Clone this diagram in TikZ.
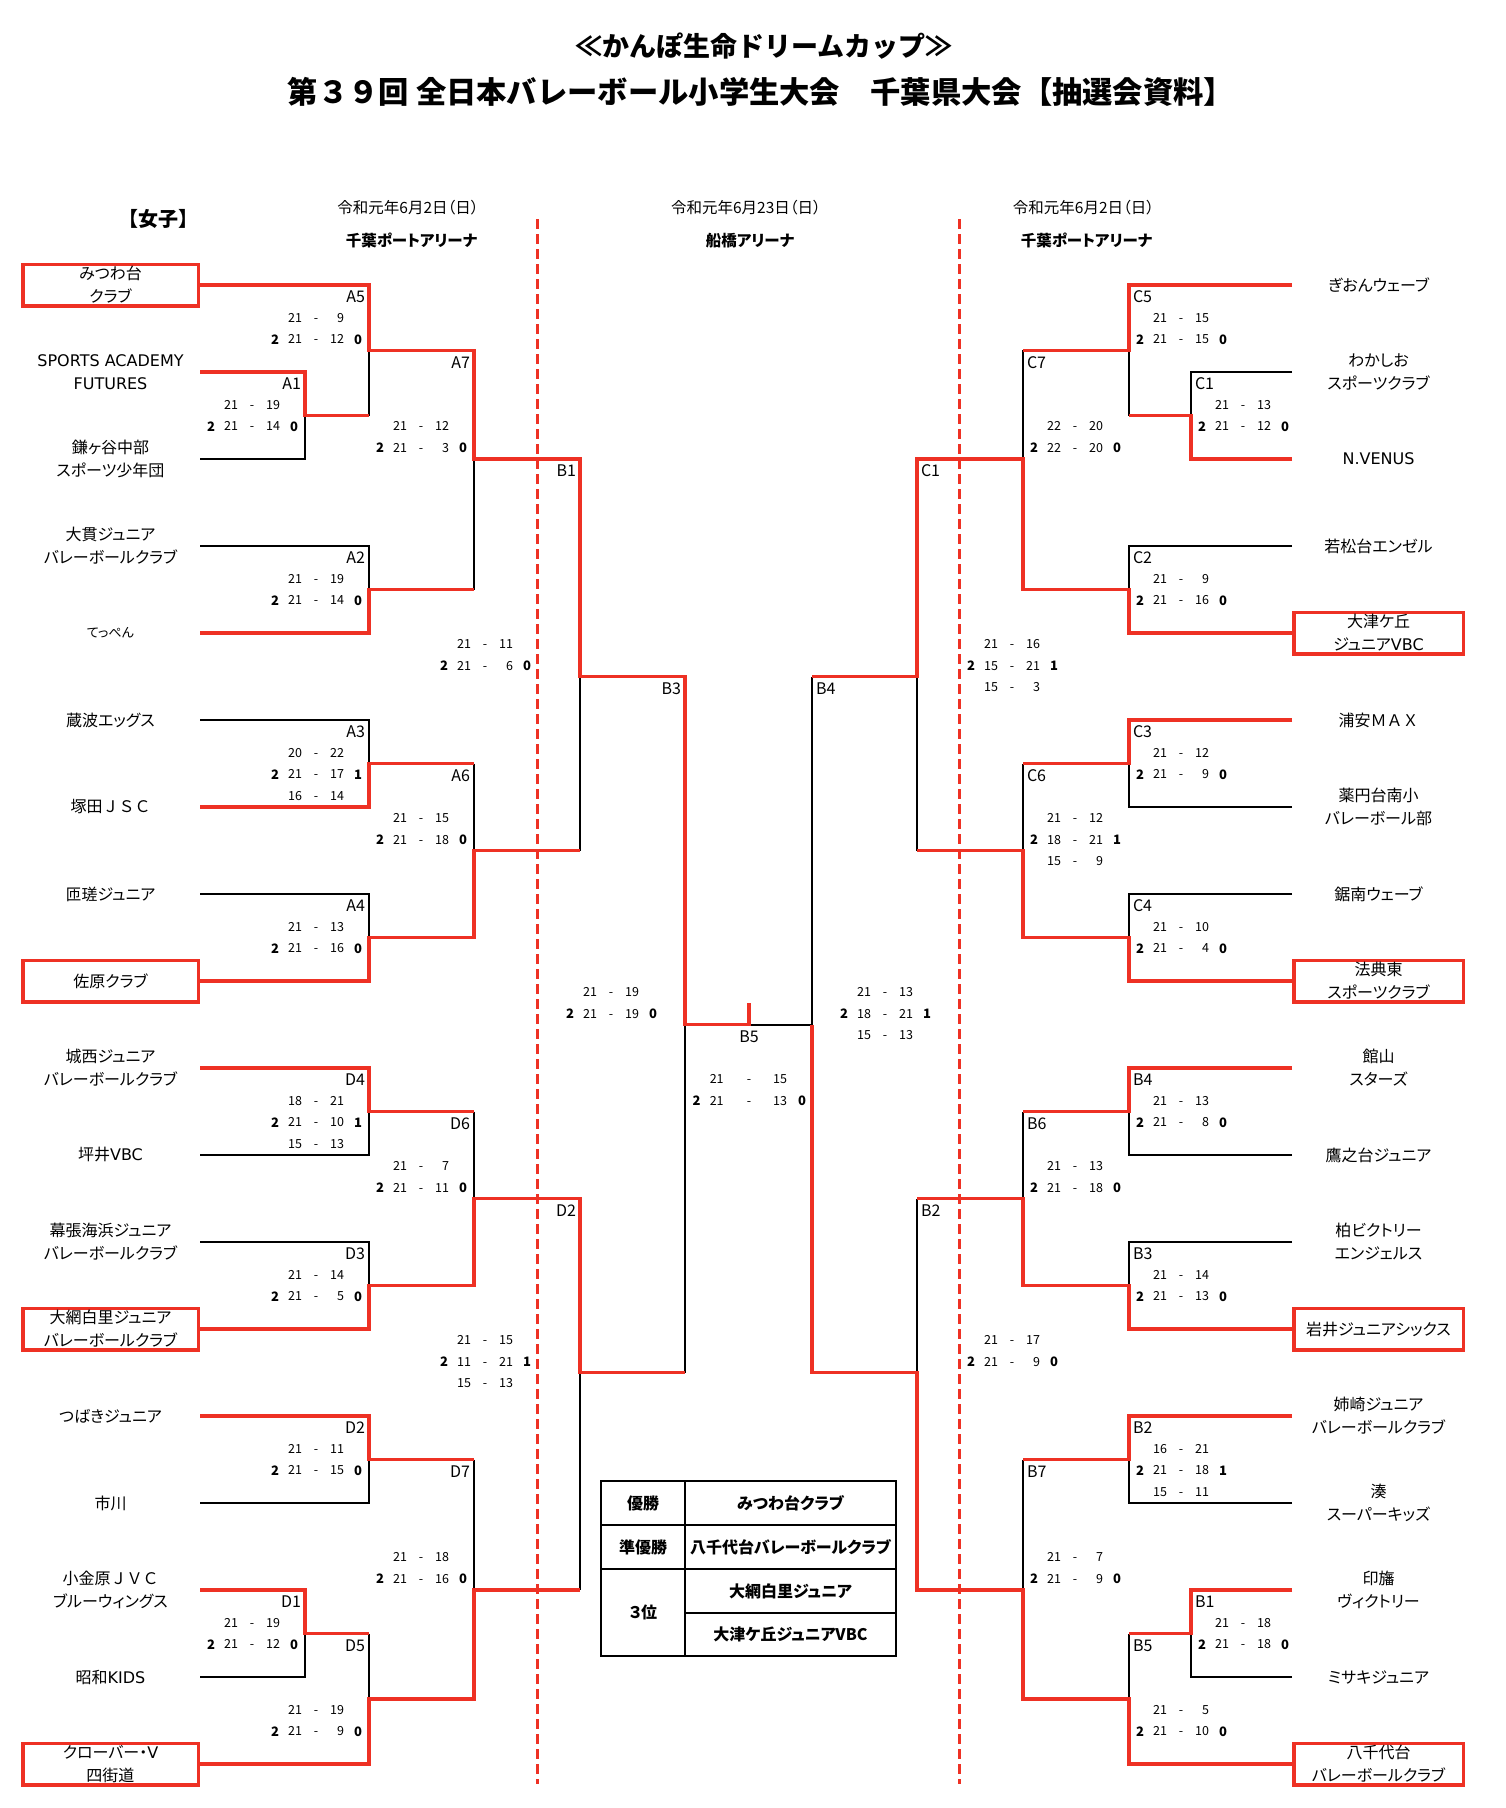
\documentclass[tikz,border=0pt]{standalone}
\usepackage{fontspec}
\setmainfont{Noto Sans CJK JP}[RawFeature=+palt]
\newfontfamily\jpfull{Noto Sans CJK JP}
\newfontfamily\lat{DejaVu Sans}
\definecolor{bred}{RGB}{238,49,36}
\newcounter{nn}
\tikzset{
 nm/.code={\stepcounter{nn}\edef\nmtmp{\noexpand\pgfkeysalso{name=t\arabic{nn}}}\nmtmp},
 tx/.style={inner sep=0pt, outer sep=0pt, nm},
 tname/.style={tx, font=\fontsize{16}{23}\selectfont, align=center},
 tsmall/.style={tx, font=\fontsize{13}{15}\selectfont},
 tboxL/.style={draw=bred, line width=3.5pt, minimum width=175.5pt, minimum height=41.5pt},
 tboxR/.style={draw=bred, line width=3.5pt, minimum width=169.5pt, minimum height=41.5pt},
 scr/.style={tx, font=\fontsize{12.5}{14}\selectfont, text height=9pt, text depth=0pt},
 cnt/.style={tx, font=\fontsize{13}{14}\selectfont\bfseries, text height=9.4pt, text depth=0pt},
 lbl/.style={tx, font=\fontsize{16}{18}\selectfont, text height=11.7pt, text depth=0pt},
 wl/.style={draw=bred, line width=3.5pt, line join=miter},
 ll/.style={draw=black, line width=2pt},
 hdr/.style={tx, font=\fontsize{15.5}{17}\selectfont},
 hdrb/.style={tx, font=\fontsize{15.5}{17}\selectfont\bfseries},
 tbl/.style={tx, font=\fontsize{16}{18}\selectfont\bfseries},
}
\newcommand\scoreline[4]{%
  \node[scr,anchor=east] at ({#1+38},{#2+.5}) {#3};
  \node[scr] at ({#1+52},{#2+.5}) {-};
  \node[scr,anchor=east] at ({#1+80},{#2+.5}) {#4};}
\newcommand\scorewin[6]{%
  \scoreline{#1}{#2}{#4}{#5}
  \node[cnt] at ({#1+11},{#2+.5}) {#3};
  \node[cnt] at ({#1+94},{#2+.5}) {#6};}
\newcommand\labL[3]{\node[lbl,anchor=east] at ({#1-4},{#2+.55}) {#3};}
\newcommand\labR[3]{\node[lbl,anchor=west] at ({#1+4},{#2+.55}) {#3};}
\newcommand\teamL[2]{\node[tname] at (110.5,#1) {#2};}
\newcommand\teamLb[2]{\node[tname,tboxL] at (110.5,#1) {#2};}
\newcommand\teamR[2]{\node[tname] at (1378.5,#1) {#2};}
\newcommand\teamRb[2]{\node[tname,tboxR] at (1378.5,#1) {#2};}
\begin{document}
\begin{tikzpicture}[x=1pt,y=-1pt]
\useasboundingbox (0,0) rectangle (1506,1808);
\fill[white] (0,0) rectangle (1506,1808);
% title
\node[tx,font=\jpfull\bfseries\fontsize{27}{30}\selectfont] at (764,46) {≪かんぽ生命ドリームカップ≫};
\node[tx,font=\jpfull\bfseries\fontsize{30.3}{33}\selectfont] at (761,92) {第３９回 全日本バレーボール小学生大会　千葉県大会【抽選会資料】};
% headers
\node[tx,font=\jpfull\fontsize{20}{24}\selectfont\bfseries] at (158,219) {【女子】};
\node[hdr] at (408,207.5) {令和元年6月2日（日）};
\node[hdrb] at (411.5,240.5) {千葉ポートアリーナ};
\node[hdr] at (746,207.5) {令和元年6月23日（日）};
\node[hdrb] at (750,240.5) {船橋アリーナ};
\node[hdr] at (1083.5,207.5) {令和元年6月2日（日）};
\node[hdrb] at (1086.5,240.5) {千葉ポートアリーナ};
% dashed separators
\draw[bred, line width=3pt, dash pattern=on 10pt off 5pt] (537,219) -- (537,1784);
\draw[bred, line width=3pt, dash pattern=on 10pt off 5pt] (959,219) -- (959,1784);
\begin{scope}[shift={(0,285)}, y=-21.75pt]
% ---------- black (losing) lines, left
\draw[ll] (200,8) -| (305,6);
\draw[ll] (369,3) -- (369,6);
\draw[ll] (200,12) -| (369,14);
\draw[ll] (474,8) -- (474,14);
\draw[ll] (200,20) -| (369,22);
\draw[ll] (200,28) -| (369,30);
\draw[ll] (474,22) -- (474,26);
\draw[ll] (580,18) -- (580,26);
\draw[ll] (685,34) -- (685,50);
\draw[ll] (200,40) -| (369,38);
\draw[ll] (474,38) -- (474,42);
\draw[ll] (200,44) -| (369,46);
\draw[ll] (580,50) -- (580,60);
\draw[ll] (200,56) -| (369,54);
\draw[ll] (474,54) -- (474,60);
\draw[ll] (200,64) -| (305,62);
\draw[ll] (369,62) -- (369,65);
\draw[ll] (749,34) -- (812,34);
% ---------- black lines, right
\draw[ll] (1292,4) -| (1191,6);
\draw[ll] (1129,3) -- (1129,6);
\draw[ll] (1023,3) -- (1023,8);
\draw[ll] (1292,12) -| (1129,14);
\draw[ll] (917,18) -- (917,26);
\draw[ll] (1292,24) -| (1129,22);
\draw[ll] (1023,22) -- (1023,26);
\draw[ll] (1292,28) -| (1129,30);
\draw[ll] (812,18) -- (812,34);
\draw[ll] (1292,40) -| (1129,38);
\draw[ll] (1023,38) -- (1023,42);
\draw[ll] (1292,44) -| (1129,46);
\draw[ll] (917,42) -- (917,50);
\draw[ll] (1292,56) -| (1129,54);
\draw[ll] (1023,54) -- (1023,60);
\draw[ll] (1292,64) -| (1191,62);
\draw[ll] (1129,62) -- (1129,65);
% ---------- red (winning) lines, left
\draw[wl] (200,0) -| (369,3) -| (474,8) -| (580,18) -| (685,34) -| (749,33);
\draw[wl] (200,4) -| (305,6) -- (369,6);
\draw[wl] (200,16) -| (369,14) -- (474,14);
\draw[wl] (200,24) -| (369,22) -- (474,22);
\draw[wl] (200,32) -| (369,30) -| (474,26) -- (580,26);
\draw[wl] (200,36) -| (369,38) -- (474,38);
\draw[wl] (200,48) -| (369,46) -| (474,42) -| (580,50) -- (685,50);
\draw[wl] (200,52) -| (369,54) -- (474,54);
\draw[wl] (200,60) -| (305,62) -- (369,62);
\draw[wl] (200,68) -| (369,65) -| (474,60) -- (580,60);
% ---------- red lines, right
\draw[wl] (1292,0) -| (1129,3) -- (1023,3);
\draw[wl] (1292,8) -| (1191,6) -- (1129,6);
\draw[wl] (1292,16) -| (1129,14) -| (1023,8) -| (917,18) -- (812,18);
\draw[wl] (1292,20) -| (1129,22) -- (1023,22);
\draw[wl] (1292,32) -| (1129,30) -| (1023,26) -- (917,26);
\draw[wl] (1292,36) -| (1129,38) -- (1023,38);
\draw[wl] (1292,48) -| (1129,46) -| (1023,42) -- (917,42);
\draw[wl] (1292,52) -| (1129,54) -- (1023,54);
\draw[wl] (1292,60) -| (1191,62) -- (1129,62);
\draw[wl] (1292,68) -| (1129,65) -| (1023,60) -| (917,50) -| (812,34);
% ---------- teams left
\teamLb{0}{みつわ台\\クラブ}
\teamL{4}{{\lat SPORTS ACADEMY}\\{\lat FUTURES}}
\teamL{8}{鎌ヶ谷中部\\スポーツ少年団}
\teamL{12}{大貫ジュニア\\バレーボールクラブ}
\node[tsmall] at (110.5,16) {てっぺん};
\teamL{20}{蔵波エッグス}
\teamL{24}{塚田{\jpfull ＪＳＣ}}
\teamL{28}{匝瑳ジュニア}
\teamLb{32}{佐原クラブ}
\teamL{36}{城西ジュニア\\バレーボールクラブ}
\teamL{40}{坪井{\lat VBC}}
\teamL{44}{幕張海浜ジュニア\\バレーボールクラブ}
\teamLb{48}{大網白里ジュニア\\バレーボールクラブ}
\teamL{52}{つばきジュニア}
\teamL{56}{市川}
\teamL{60}{小金原{\jpfull ＪＶＣ}\\ブルーウィングス}
\teamL{64}{昭和{\lat KIDS}}
\teamLb{68}{クローバー・{\lat V}\\四街道}
% ---------- teams right
\teamR{0}{ぎおんウェーブ}
\teamR{4}{わかしお\\スポーツクラブ}
\teamR{8}{{\lat N.VENUS}}
\teamR{12}{若松台エンゼル}
\teamRb{16}{大津ケ丘\\ジュニア{\lat VBC}}
\teamR{20}{浦安{\jpfull ＭＡＸ}}
\teamR{24}{薬円台南小\\バレーボール部}
\teamR{28}{鋸南ウェーブ}
\teamRb{32}{法典東\\スポーツクラブ}
\teamR{36}{館山\\スターズ}
\teamR{40}{鷹之台ジュニア}
\teamR{44}{柏ビクトリー\\エンジェルス}
\teamRb{48}{岩井ジュニアシックス}
\teamR{52}{姉崎ジュニア\\バレーボールクラブ}
\teamR{56}{湊\\スーパーキッズ}
\teamR{60}{印旛\\ヴィクトリー}
\teamR{64}{ミサキジュニア}
\teamRb{68}{八千代台\\バレーボールクラブ}
% ---------- match labels left
\labL{369}{0}{A5}
\labL{305}{4}{A1}
\labL{474}{3}{A7}
\labL{369}{12}{A2}
\labL{580}{8}{B1}
\labL{369}{20}{A3}
\labL{474}{22}{A6}
\labL{369}{28}{A4}
\labL{685}{18}{B3}
\labL{369}{36}{D4}
\labL{474}{38}{D6}
\labL{369}{44}{D3}
\labL{580}{42}{D2}
\labL{369}{52}{D2}
\labL{474}{54}{D7}
\labL{305}{60}{D1}
\labL{369}{62}{D5}
% ---------- match labels right
\labR{1129}{0}{C5}
\labR{1023}{3}{C7}
\labR{1191}{4}{C1}
\labR{1129}{12}{C2}
\labR{917}{8}{C1}
\labR{1129}{20}{C3}
\labR{1023}{22}{C6}
\labR{1129}{28}{C4}
\labR{812}{18}{B4}
\labR{1129}{36}{B4}
\labR{1023}{38}{B6}
\labR{1129}{44}{B3}
\labR{917}{42}{B2}
\labR{1129}{52}{B2}
\labR{1023}{54}{B7}
\labR{1191}{60}{B1}
\labR{1129}{62}{B5}
\node[lbl] at (749,34.55) {B5};
% ---------- scores left
\scoreline{264}{1}{21}{9}
\scorewin{264}{2}{2}{21}{12}{0}
\scoreline{200}{5}{21}{19}
\scorewin{200}{6}{2}{21}{14}{0}
\scoreline{369}{6}{21}{12}
\scorewin{369}{7}{2}{21}{3}{0}
\scoreline{264}{13}{21}{19}
\scorewin{264}{14}{2}{21}{14}{0}
\scoreline{433}{16}{21}{11}
\scorewin{433}{17}{2}{21}{6}{0}
\scoreline{264}{21}{20}{22}
\scorewin{264}{22}{2}{21}{17}{1}
\scoreline{264}{23}{16}{14}
\scoreline{369}{24}{21}{15}
\scorewin{369}{25}{2}{21}{18}{0}
\scoreline{264}{29}{21}{13}
\scorewin{264}{30}{2}{21}{16}{0}
\scoreline{559}{32}{21}{19}
\scorewin{559}{33}{2}{21}{19}{0}
\scoreline{264}{37}{18}{21}
\scorewin{264}{38}{2}{21}{10}{1}
\scoreline{264}{39}{15}{13}
\scoreline{369}{40}{21}{7}
\scorewin{369}{41}{2}{21}{11}{0}
\scoreline{264}{45}{21}{14}
\scorewin{264}{46}{2}{21}{5}{0}
\scoreline{433}{48}{21}{15}
\scorewin{433}{49}{2}{11}{21}{1}
\scoreline{433}{50}{15}{13}
\scoreline{264}{53}{21}{11}
\scorewin{264}{54}{2}{21}{15}{0}
\scoreline{369}{58}{21}{18}
\scorewin{369}{59}{2}{21}{16}{0}
\scoreline{200}{61}{21}{19}
\scorewin{200}{62}{2}{21}{12}{0}
\scoreline{264}{65}{21}{19}
\scorewin{264}{66}{2}{21}{9}{0}
% ---------- scores right
\scoreline{1129}{1}{21}{15}
\scorewin{1129}{2}{2}{21}{15}{0}
\scoreline{1191}{5}{21}{13}
\scorewin{1191}{6}{2}{21}{12}{0}
\scoreline{1023}{6}{22}{20}
\scorewin{1023}{7}{2}{22}{20}{0}
\scoreline{1129}{13}{21}{9}
\scorewin{1129}{14}{2}{21}{16}{0}
\scoreline{960}{16}{21}{16}
\scorewin{960}{17}{2}{15}{21}{1}
\scoreline{960}{18}{15}{3}
\scoreline{1129}{21}{21}{12}
\scorewin{1129}{22}{2}{21}{9}{0}
\scoreline{1023}{24}{21}{12}
\scorewin{1023}{25}{2}{18}{21}{1}
\scoreline{1023}{26}{15}{9}
\scoreline{1129}{29}{21}{10}
\scorewin{1129}{30}{2}{21}{4}{0}
\scoreline{833}{32}{21}{13}
\scorewin{833}{33}{2}{18}{21}{1}
\scoreline{833}{34}{15}{13}
\scoreline{1129}{37}{21}{13}
\scorewin{1129}{38}{2}{21}{8}{0}
\scoreline{1023}{40}{21}{13}
\scorewin{1023}{41}{2}{21}{18}{0}
\scoreline{1129}{45}{21}{14}
\scorewin{1129}{46}{2}{21}{13}{0}
\scoreline{960}{48}{21}{17}
\scorewin{960}{49}{2}{21}{9}{0}
\scoreline{1129}{53}{16}{21}
\scorewin{1129}{54}{2}{21}{18}{1}
\scoreline{1129}{55}{15}{11}
\scoreline{1023}{58}{21}{7}
\scorewin{1023}{59}{2}{21}{9}{0}
\scoreline{1191}{61}{21}{18}
\scorewin{1191}{62}{2}{21}{18}{0}
\scoreline{1129}{65}{21}{5}
\scorewin{1129}{66}{2}{21}{10}{0}
% ---------- final scores
\node[scr] at (716.7,36.5) {21};
\node[scr] at (749,36.5) {-};
\node[scr] at (780,36.5) {15};
\node[cnt] at (696.7,37.5) {2};
\node[scr] at (716.7,37.5) {21};
\node[scr] at (749,37.5) {-};
\node[scr] at (780,37.5) {13};
\node[cnt] at (802,37.5) {0};
\end{scope}
% ---------- results table
\draw[line width=2pt] (601,1481) rectangle (896,1656);
\draw[line width=2pt] (685,1481) -- (685,1656);
\draw[line width=2pt] (601,1525) -- (896,1525);
\draw[line width=2pt] (601,1569) -- (896,1569);
\draw[line width=2pt] (685,1612.5) -- (896,1612.5);
\node[tbl] at (643,1503) {優勝};
\node[tbl] at (790.5,1503) {みつわ台クラブ};
\node[tbl] at (643,1547) {準優勝};
\node[tbl] at (790.5,1547) {八千代台バレーボールクラブ};
\node[tbl] at (643,1612.5) {３位};
\node[tbl] at (790.5,1591) {大網白里ジュニア};
\node[tbl] at (790.5,1634.5) {大津ケ丘ジュニアVBC};
\end{tikzpicture}
\end{document}
